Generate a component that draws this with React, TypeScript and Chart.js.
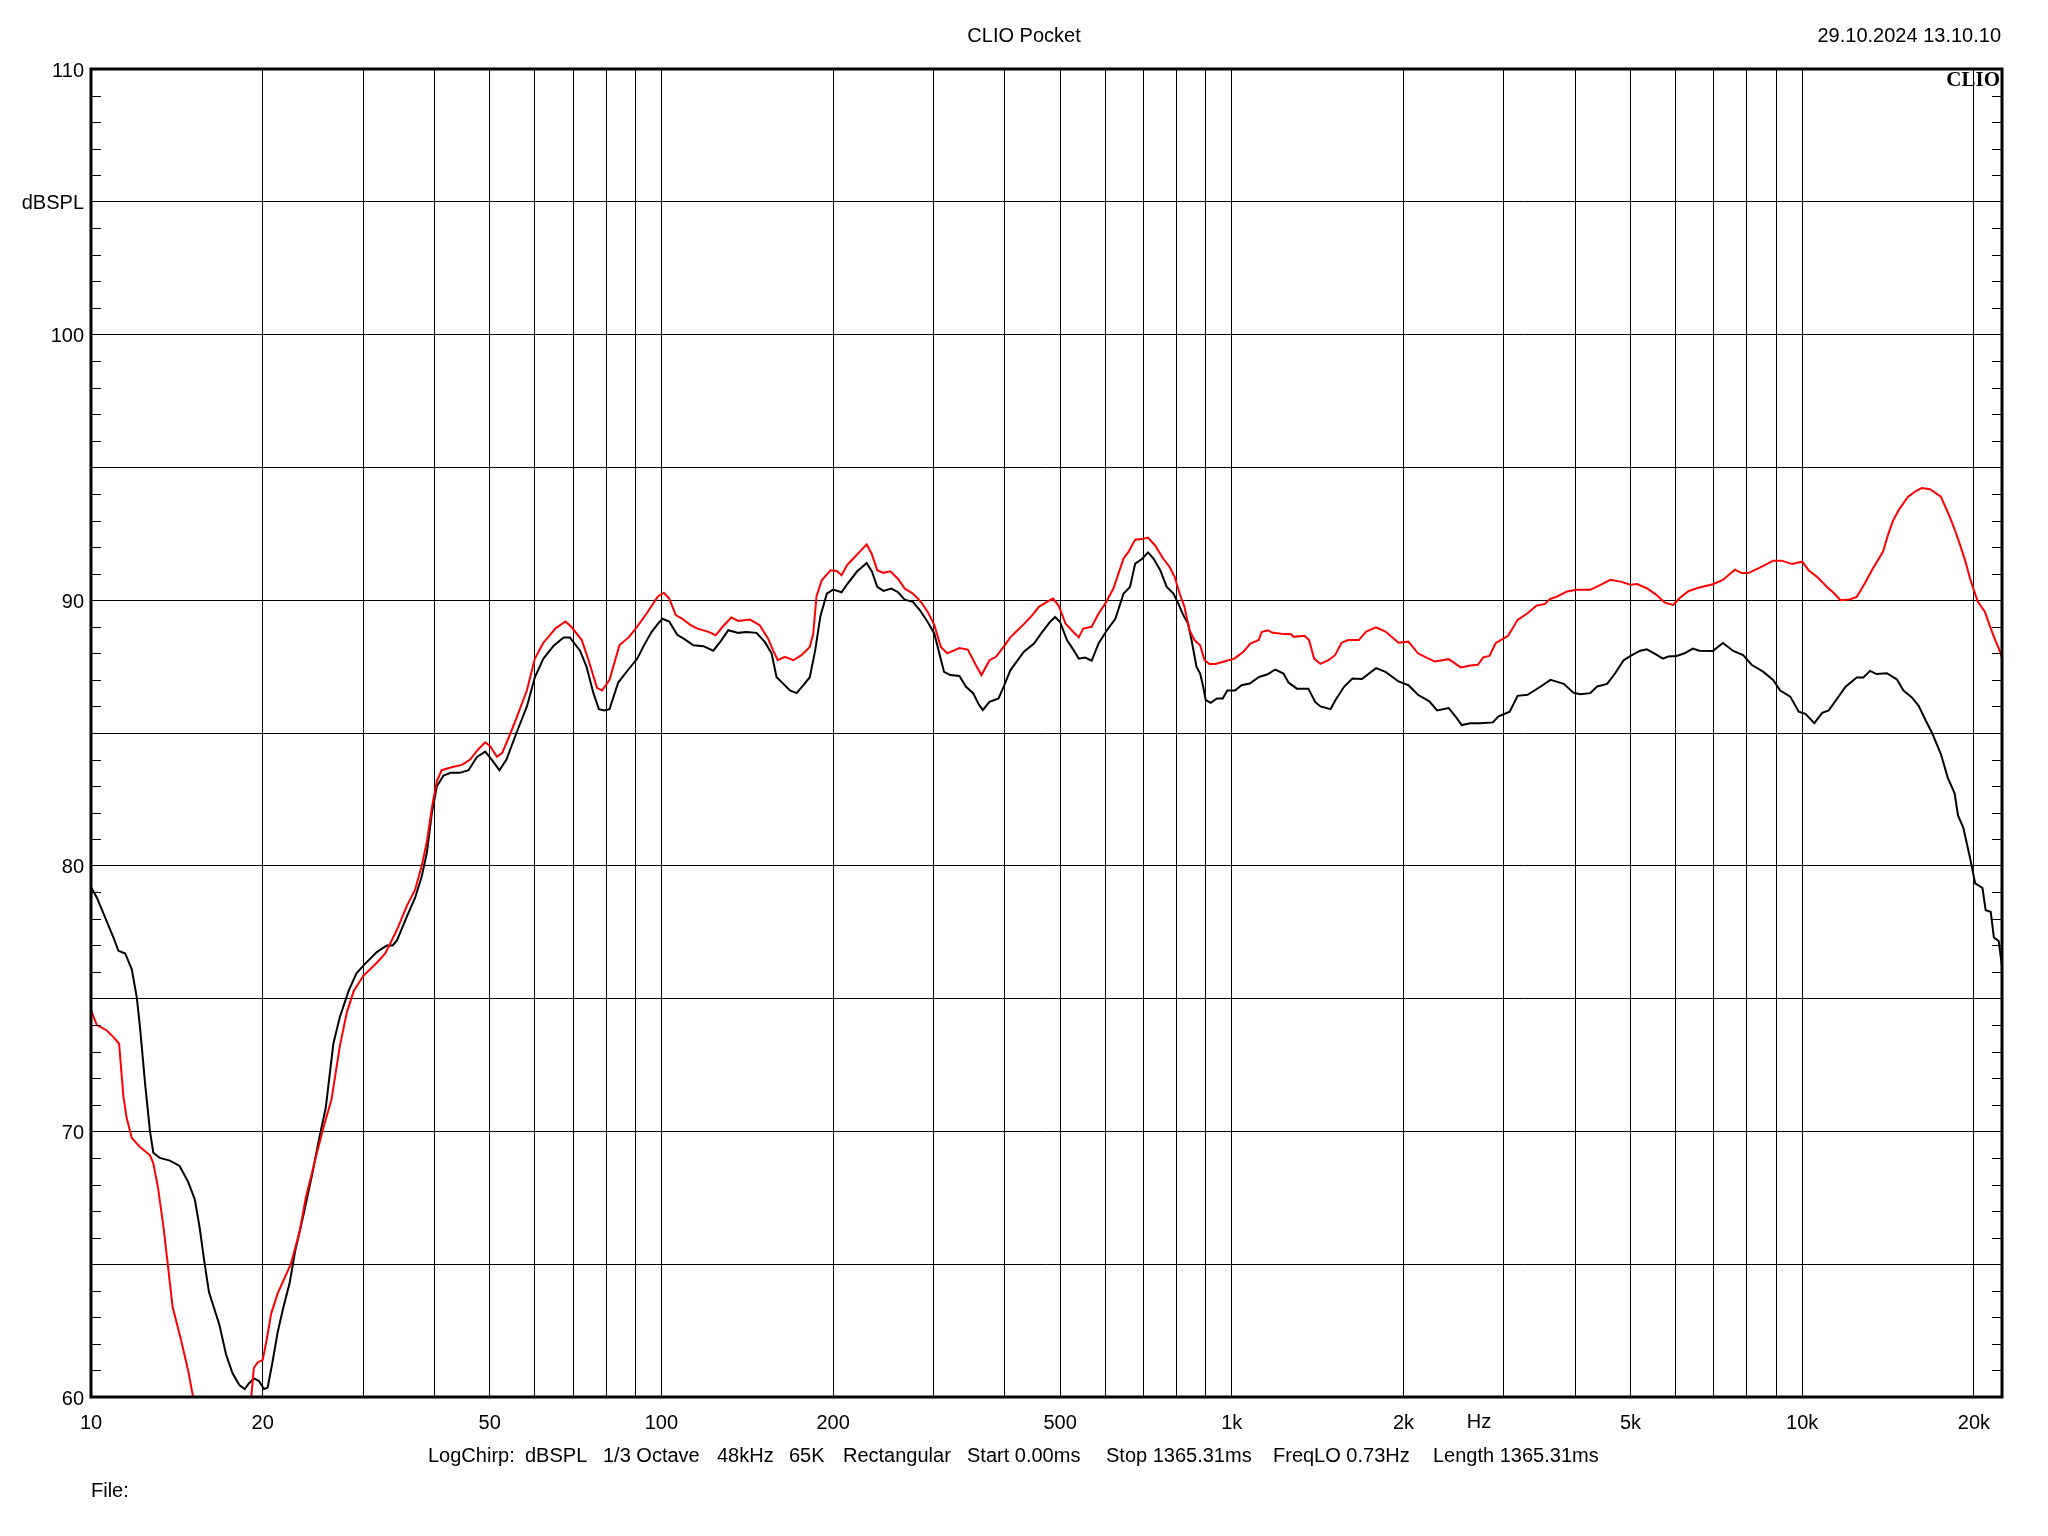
import React, { useEffect, useRef } from "react";
import { Chart, registerables } from "chart.js";

Chart.register(...registerables);

// ---------- data ----------
const blackFreq = [
  10, 10.24, 10.95, 11.17, 11.48, 11.79, 12.03, 12.19, 12.44, 12.69, 12.86, 13.2, 13.75, 14.3, 14.8, 15.2, 15.5, 15.8, 16.1, 16.8,
  17.25, 17.7, 18.2, 18.6, 18.9, 19.3, 19.7, 20.1, 20.4, 20.8, 21.25, 21.7, 22.3, 22.8, 23.6, 24.4, 25.1, 25.8, 26.6, 27.3,
  28.3, 29.2, 30.2, 31.7, 33.0, 33.8, 34.4, 35.8, 37.0, 38.0, 38.8, 39.6, 40.4, 41.5, 42.7, 44.3, 45.9, 47.5, 49.1, 50.4,
  52.0, 53.5, 55.7, 58.1, 60.0, 62.1, 64.8, 67.4, 69.1, 72.0, 73.9, 76.0, 77.7, 79.4, 81.1, 84.0, 87.6, 90.7, 93.2, 96.1,
  98.5, 100.4, 103.2, 106.6, 109.4, 113.8, 118.5, 123.3, 126.8, 131, 136.4, 141, 146.8, 151.8, 156, 159.2, 163.5, 168, 172.6, 177.4,
  182, 186, 190, 195, 200, 207, 211.6, 220, 229, 234, 239, 245, 253, 260, 267, 276, 284, 293, 301, 307,
  313, 321, 333, 342, 352, 359.5, 366, 376, 390, 398, 409, 418, 432, 450, 465, 480, 490, 500, 514, 528,
  539, 553, 568, 584, 604, 625, 646, 663, 677, 695, 713, 729, 749, 769, 790, 806, 822, 838, 850, 867,
  880, 891, 900, 918, 942, 964, 982, 1013, 1040, 1075, 1116, 1153, 1192, 1232, 1257, 1300, 1362, 1400, 1430, 1490,
  1520, 1573, 1627, 1690, 1790, 1860, 1960, 2040, 2120, 2220, 2290, 2400, 2480, 2530, 2620, 2730, 2870, 2930, 3070, 3170,
  3300, 3480, 3620, 3820, 3970, 4080, 4250, 4370, 4550, 4700, 4860, 5000, 5200, 5340, 5520, 5700, 5820, 6020, 6220, 6430,
  6600, 6970, 7260, 7570, 7880, 8150, 8540, 8900, 9150, 9530, 9860, 10130, 10500, 10840, 11130, 11500, 11900, 12460, 12800, 13150,
  13500, 14070, 14650, 15050, 15570, 16000, 16440, 16900, 17500, 18000, 18500, 18760, 19160, 19700, 20100, 20700, 20970, 21400, 21680, 22100,
  22400,
];
const blackSpl = [
  79.2, 78.8, 77.3, 76.8, 76.7, 76.1, 75.05, 73.9, 71.8, 70.0, 69.2, 69.0, 68.9, 68.7, 68.1, 67.45, 66.4, 65.1, 63.95, 62.7,
  61.6, 60.9, 60.45, 60.3, 60.5, 60.7, 60.6, 60.3, 60.35, 61.3, 62.45, 63.3, 64.3, 65.5, 66.9, 68.35, 69.7, 70.9, 73.3, 74.3,
  75.3, 75.95, 76.3, 76.75, 77.0, 77.0, 77.2, 78.1, 78.8, 79.6, 80.5, 82.0, 83.0, 83.4, 83.5, 83.5, 83.6, 84.1, 84.3, 84.0,
  83.6, 84.0, 85.0, 86.0, 87.1, 87.8, 88.3, 88.6, 88.6, 88.1, 87.5, 86.5, 85.9, 85.85, 85.9, 86.9, 87.4, 87.8, 88.3, 88.8,
  89.1, 89.3, 89.2, 88.7, 88.55, 88.3, 88.27, 88.1, 88.43, 88.87, 88.77, 88.8, 88.77, 88.43, 88.0, 87.1, 86.86, 86.6, 86.5, 86.8,
  87.1, 88.1, 89.4, 90.25, 90.4, 90.3, 90.6, 91.07, 91.4, 91.07, 90.5, 90.35, 90.44, 90.3, 90.02, 89.94, 89.62, 89.18, 88.74, 88.0,
  87.3, 87.18, 87.15, 86.74, 86.5, 86.1, 85.86, 86.17, 86.3, 86.74, 87.36, 87.64, 88.06, 88.37, 88.8, 89.18, 89.37, 89.18, 88.5, 88.12,
  87.8, 87.84, 87.72, 88.37, 88.87, 89.3, 90.25, 90.5, 91.38, 91.54, 91.8, 91.57, 91.13, 90.5, 90.25, 89.87, 89.44, 89.12, 88.5, 87.5,
  87.24, 86.74, 86.24, 86.14, 86.3, 86.3, 86.6, 86.6, 86.8, 86.86, 87.11, 87.2, 87.39, 87.24, 86.9, 86.67, 86.67, 86.17, 86.0, 85.9,
  86.24, 86.74, 87.05, 87.03, 87.44, 87.3, 86.94, 86.8, 86.44, 86.19, 85.85, 85.94, 85.56, 85.3, 85.37, 85.37, 85.4, 85.62, 85.8, 86.4,
  86.44, 86.75, 87.0, 86.85, 86.52, 86.46, 86.5, 86.75, 86.85, 87.25, 87.73, 87.9, 88.1, 88.15, 87.98, 87.8, 87.88, 87.9, 88.0, 88.18,
  88.1, 88.09, 88.39, 88.09, 87.93, 87.57, 87.31, 86.99, 86.6, 86.37, 85.8, 85.72, 85.37, 85.76, 85.85, 86.28, 86.73, 87.09, 87.09, 87.34,
  87.22, 87.25, 87.02, 86.6, 86.34, 86.02, 85.5, 84.99, 84.21, 83.31, 82.73, 81.89, 81.44, 80.27, 79.34, 79.17, 78.33, 78.27, 77.3, 77.17,
  76.2,
];

const redFreq = [
  10, 10.24, 10.66, 10.95, 11.2, 11.4, 11.55, 11.79, 12.2, 12.69, 12.86, 13.1, 13.4, 13.65, 13.9, 14.4, 14.8, 15.1, 15.6, 17.0,
  18.5, 19.0, 19.1, 19.3, 19.6, 20.0, 20.3, 20.7, 21.25, 22.4, 23.2, 23.8, 24.7, 25.6, 26.4, 27.3, 28.1, 28.9, 30.0, 31.7,
  32.8, 34.4, 35.8, 37.0, 38.0, 38.8, 39.6, 40.4, 41.2, 42.7, 44.7, 46.2, 47.8, 49.1, 50.1, 51.5, 52.6, 54.4, 55.7, 58.1,
  60.0, 62.1, 65.3, 67.9, 69.5, 72.5, 74.5, 77.1, 78.7, 81.1, 84.4, 87.6, 90.3, 94.2, 98.5, 101, 103.2, 106, 108.8, 112.5,
  115.7, 121.3, 124.5, 128, 132.6, 136.4, 143, 148.7, 153.8, 157, 160, 164.6, 170.3, 176, 182, 184.6, 187, 191, 198, 203,
  207, 211.6, 217, 222.6, 229, 233.6, 239, 245, 252, 260, 267, 276, 285, 293, 301, 309, 317, 333, 344.5, 355,
  364, 376, 386, 398, 409, 418, 432, 447, 459, 474, 486, 497, 511, 524, 539, 549, 568, 584, 600, 620,
  646, 659, 677, 695, 713, 733, 758, 778, 794, 810, 826, 843, 860, 880, 896, 914, 936, 973, 1010, 1048,
  1078, 1115, 1128, 1155, 1180, 1222, 1270, 1285, 1341, 1366, 1394, 1430, 1477, 1517, 1558, 1600, 1670, 1720, 1790, 1860,
  1960, 2040, 2120, 2190, 2270, 2400, 2520, 2620, 2700, 2760, 2830, 2900, 3050, 3170, 3300, 3420, 3540, 3610, 3720, 3870,
  4020, 4250, 4430, 4610, 4800, 5000, 5130, 5340, 5550, 5740, 5940, 6100, 6310, 6530, 6970, 7260, 7620, 7830, 8040, 8430,
  8900, 9200, 9600, 10000, 10270, 10630, 11050, 11350, 11670, 12100, 12460, 12900, 13300, 13860, 14150, 14430, 14820, 15330, 15850, 16200,
  16750, 17500, 18100, 18500, 18900, 19300, 19700, 20300, 20900, 21300, 21700, 22100, 22400,
];
const redSpl = [
  74.56, 74.0, 73.8, 73.55, 73.3, 71.3, 70.5, 69.75, 69.4, 69.1, 68.8, 67.9, 66.4, 64.9, 63.4, 62.1, 61.0, 60.0, 58.5, 56.0,
  56.0, 58.5, 60.0, 61.1, 61.3, 61.4, 62.1, 63.15, 63.9, 65.0, 66.2, 67.5, 68.9, 70.2, 71.2, 73.2, 74.5, 75.3, 75.85, 76.35,
  76.7, 77.6, 78.5, 79.1, 80.0, 80.9, 82.2, 83.2, 83.6, 83.7, 83.8, 84.0, 84.4, 84.65, 84.5, 84.1, 84.25, 85.0, 85.56, 86.6,
  87.8, 88.4, 88.95, 89.2, 89.0, 88.5, 87.75, 86.7, 86.6, 87.0, 88.3, 88.6, 88.95, 89.5, 90.13, 90.28, 90.06, 89.44, 89.3, 89.06,
  88.93, 88.8, 88.68, 89.0, 89.35, 89.22, 89.27, 89.06, 88.56, 88.1, 87.74, 87.87, 87.74, 87.93, 88.24, 88.74, 90.13, 90.75, 91.13, 91.1,
  90.94, 91.32, 91.57, 91.82, 92.1, 91.76, 91.13, 91.03, 91.09, 90.8, 90.44, 90.25, 89.94, 89.56, 89.06, 88.24, 88.0, 88.2, 88.14, 87.6,
  87.18, 87.74, 87.87, 88.24, 88.6, 88.8, 89.1, 89.44, 89.75, 89.94, 90.06, 89.8, 89.12, 88.87, 88.6, 88.93, 89.0, 89.5, 89.87, 90.44,
  91.57, 91.82, 92.28, 92.3, 92.36, 92.07, 91.57, 91.25, 90.88, 90.25, 89.75, 88.87, 88.5, 88.3, 87.74, 87.6, 87.6, 87.7, 87.8, 88.06,
  88.37, 88.5, 88.8, 88.87, 88.77, 88.74, 88.72, 88.62, 88.66, 88.5, 87.8, 87.6, 87.74, 87.93, 88.4, 88.5, 88.5, 88.82, 88.98, 88.82,
  88.4, 88.44, 88.0, 87.85, 87.69, 87.78, 87.47, 87.54, 87.57, 87.85, 87.9, 88.38, 88.66, 89.26, 89.51, 89.79, 89.86, 90.04, 90.14, 90.33,
  90.39, 90.39, 90.58, 90.77, 90.7, 90.58, 90.61, 90.45, 90.2, 89.91, 89.82, 90.08, 90.33, 90.45, 90.6, 90.76, 91.15, 91.02, 91.02, 91.23,
  91.49, 91.49, 91.36, 91.45, 91.12, 90.87, 90.5, 90.28, 90.0, 90.03, 90.12, 90.67, 91.19, 91.83, 92.48, 93.0, 93.45, 93.9, 94.12, 94.22,
  94.18, 93.9, 93.19, 92.67, 92.1, 91.5, 90.8, 89.96, 89.57, 89.06, 88.6, 88.2, 87.83,
];

const xGridFreqs = [
  10, 20, 30, 40, 50, 60, 70, 80, 90, 100, 200, 300, 400, 500, 600, 700, 800, 900,
  1000, 2000, 3000, 4000, 5000, 6000, 7000, 8000, 9000, 10000, 20000,
];
const xLabelValues = [10, 20, 50, 100, 200, 500, 1000, 2000, 5000, 10000, 20000];
const xLabelTexts = ["10", "20", "50", "100", "200", "500", "1k", "2k", "5k", "10k", "20k"];
const yLabelValues = [60, 70, 80, 90, 100, 105, 110];
const yLabelTexts = ["60", "70", "80", "90", "100", "dBSPL", "110"];

const titleText = "CLIO Pocket";
const dateText = "29.10.2024 13.10.10";
const brandText = "CLIO";
const unitText = "Hz";
const infoItems = [
  "LogChirp:", "dBSPL", "1/3 Octave", "48kHz", "65K", "Rectangular",
  "Start 0.00ms", "Stop 1365.31ms", "FreqLO 0.73Hz", "Length 1365.31ms",
];
const infoX = [428, 525, 603, 717, 789, 843, 967, 1106, 1273, 1433];
const fileText = "File:";

const FONT = '"Liberation Sans", Arial, sans-serif';

const decorPlugin = {
  id: "decor",
  afterDraw(chart: any) {
    const { ctx, chartArea: a, scales } = chart;
    const ys = scales.y;
    const xs = scales.x;
    ctx.save();
    ctx.strokeStyle = "#000";
    ctx.lineWidth = 1;
    for (let v = 61; v < 110; v++) {
      if (v % 5 === 0) continue;
      const py = Math.round(ys.getPixelForValue(v)) + 0.5;
      ctx.beginPath();
      ctx.moveTo(a.left, py);
      ctx.lineTo(a.left + 10, py);
      ctx.moveTo(a.right - 10, py);
      ctx.lineTo(a.right, py);
      ctx.stroke();
    }
    ctx.lineWidth = 3;
    ctx.strokeRect(a.left, a.top, a.right - a.left, a.bottom - a.top);

    ctx.fillStyle = "#000";
    ctx.font = `20px ${FONT}`;
    ctx.textBaseline = "alphabetic";
    ctx.textAlign = "center";
    ctx.fillText(titleText, chart.width / 2, 42);
    ctx.textAlign = "right";
    ctx.fillText(dateText, a.right - 1, 42);
    ctx.textAlign = "center";
    ctx.fillText(unitText, xs.getPixelForValue(3000) - 25, 1428);
    ctx.textAlign = "left";
    infoItems.forEach((t, i) => ctx.fillText(t, infoX[i], 1462));
    ctx.fillText(fileText, a.left, 1497);

    ctx.font = `bold 21px "Liberation Serif", "Times New Roman", serif`;
    ctx.textAlign = "right";
    ctx.fillText(brandText, a.right - 2, 86);
    ctx.restore();
  },
};

export default function App() {
  const ref = useRef<HTMLCanvasElement | null>(null);
  useEffect(() => {
    if (!ref.current) return;
    const chart = new Chart(ref.current, {
      type: "scatter",
      data: {
        datasets: [
          {
            label: "red",
            data: redFreq.map((f, i) => ({ x: f, y: redSpl[i] })),
            showLine: true,
            borderColor: "#ff0000",
            backgroundColor: "#ff0000",
            borderWidth: 2,
            pointRadius: 0,
            tension: 0,
          },
          {
            label: "black",
            data: blackFreq.map((f, i) => ({ x: f, y: blackSpl[i] })),
            showLine: true,
            borderColor: "#000000",
            backgroundColor: "#000000",
            borderWidth: 2,
            pointRadius: 0,
            tension: 0,
          },
        ],
      },
      options: {
        responsive: false,
        animation: false,
        events: [],
        layout: { padding: { left: 0, right: 46, top: 69, bottom: 0 } },
        plugins: { legend: { display: false }, tooltip: { enabled: false }, title: { display: false } },
        scales: {
          x: {
            type: "logarithmic",
            min: 10,
            max: 22400,
            afterBuildTicks: (scale: any) => {
              scale.ticks = xGridFreqs.map((v) => ({ value: v }));
            },
            afterFit: (scale: any) => {
              scale.height = 139;
            },
            grid: { color: "#000", lineWidth: 1, drawTicks: false },
            border: { display: false },
            ticks: {
              autoSkip: false,
              maxRotation: 0,
              minRotation: 0,
              padding: 14,
              color: "#000",
              font: { family: FONT, size: 20 },
              callback: (v: any) => {
                const i = xLabelValues.indexOf(Number(v));
                return i >= 0 ? xLabelTexts[i] : "";
              },
            },
          },
          y: {
            type: "linear",
            min: 60,
            max: 110,
            afterFit: (scale: any) => {
              scale.width = 91;
            },
            grid: { color: "#000", lineWidth: 1, drawTicks: false },
            border: { display: false },
            ticks: {
              stepSize: 5,
              padding: 7,
              labelOffset: 2,
              autoSkip: false,
              color: "#000",
              font: { family: FONT, size: 20 },
              callback: (v: any) => {
                const i = yLabelValues.indexOf(Number(v));
                return i >= 0 ? yLabelTexts[i] : "";
              },
            },
          },
        },
      },
      plugins: [decorPlugin],
    });
    return () => chart.destroy();
  }, []);
  return (
    <div style={{ position: "absolute", left: 0, top: 0, width: 2048, height: 1536, background: "#fff" }}>
      <canvas ref={ref} width={2048} height={1536} style={{ display: "block" }} />
    </div>
  );
}
